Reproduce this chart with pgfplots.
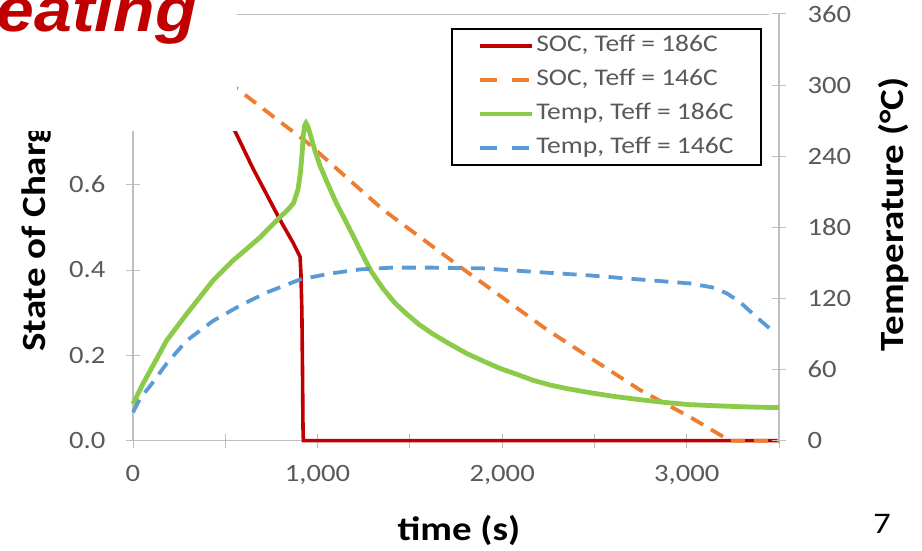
\documentclass[border=0pt]{standalone}
\usepackage{fontspec}
\setmainfont{Carlito}[FakeStretch=1.15]
\newfontfamily\arialfont{Liberation Sans}[FakeStretch=1.1]
\usepackage{pgfplots}
\pgfplotsset{compat=1.18}
\definecolor{socred}{HTML}{C00000}
\definecolor{socorange}{HTML}{ED7D31}
\definecolor{tgreen}{HTML}{8CCB4A}
\definecolor{tblue}{HTML}{5B9BD5}
\definecolor{axgray}{HTML}{BFBFBF}
\definecolor{lblgray}{HTML}{595959}
\definecolor{titlered}{HTML}{C00000}
\begin{document}
\begin{tikzpicture}[x=1bp,y=1bp]
\path[use as bounding box] (0,0) rectangle (922,551);
\pgfplotsset{
  common/.style={
    scale only axis, width=646bp, height=426.7bp,
    at={(133bp,110.3bp)}, anchor=south west,
    xmin=0, xmax=3500, clip=false,
    axis line style={-, draw=axgray, line width=1.1bp},
    tick style={draw=axgray, line width=1bp},
    tick align=center, major tick length=14bp, minor tick length=14bp,
    ticklabel style={font=\fontsize{25}{30}\selectfont, text=lblgray},
    /pgf/number format/assume math mode=true,
  }
}
\begin{axis}[common,
  axis x line*=bottom, axis y line*=left,
  ymin=0, ymax=1,
  ytick={0,0.2,0.4,0.6,0.8,1},
  yticklabel style={xshift=-17bp, /pgf/number format/.cd, fixed, fixed zerofill, precision=1},
  xticklabel style={yshift=-14bp},
  xtick={0,1000,2000,3000}, minor xtick={500,1500,2500,3500},
  every axis y label/.style={at={(axis description cs:-0.1362,0.2008)}, rotate=90, anchor=base west},
  every axis x label/.style={at={(axis description cs:0.5046,-0.235)}, anchor=base},
  ylabel={State of Charge}, xlabel={time (s)},
  label style={font=\bfseries\fontsize{34}{40}\selectfont, text=black},
]
\addplot[socred, line width=3.6bp] coordinates {
(0,1.0) (200,0.95) (400,0.85) (553,0.725) (650,0.638) (796,0.518) (867,0.464)
(905,0.431) (910,0.39) (915,0.30) (918,0.18) (921,0.03) (923,0) (3500,0)
};
\addplot[socorange, line width=3.8bp, dash pattern=on 14bp off 9bp] coordinates {
(0,1.0) (569,0.823) (943,0.699) (1354,0.5416) (1771,0.4078) (2243,0.260)
(2746,0.119) (3017,0.0556) (3234,0) (3500,0)
};
\end{axis}
\begin{axis}[common,
  axis x line=none, axis y line*=right,
  ymin=0, ymax=360, ytick={0,60,...,360},
  yticklabel style={xshift=18bp},
  every axis y label/.style={at={(axis description cs:1.192,0.2008)}, rotate=90, anchor=base west},
  ylabel={Temperature (°C)},
  label style={font=\bfseries\fontsize{34}{40}\selectfont, text=black},
  legend style={at={(0.973,0.9665)}, anchor=north east, draw=black, line width=1.3bp,
    fill=white, inner xsep=26bp, inner ysep=4.5bp, row sep=9bp,
    font=\fontsize{24}{28}\selectfont, text=lblgray,
    cells={anchor=west}, nodes={inner sep=1.5bp, text height=17bp, text depth=5bp}},
  legend image code/.code={\draw[#1] (0bp,0bp) -- (52bp,0bp);},
]
\addlegendimage{socred, line width=3.6bp}
\addlegendentry{SOC, Teff = 186C}
\addlegendimage{socorange, line width=3.8bp, dash pattern=on 17bp off 15bp}
\addlegendentry{SOC, Teff = 146C}
\addlegendimage{tgreen, line width=4.8bp}
\addlegendentry{Temp, Teff = 186C}
\addlegendimage{tblue, line width=3.8bp, dash pattern=on 17bp off 15bp}
\addlegendentry{Temp, Teff = 146C}
\addplot[tgreen, line width=4.8bp, forget plot] coordinates {
(0,31) (54,48) (128,69) (182,84.5) (291,107) (433,135) (542,152) (688,171.5)
(796,188.5) (840,195) (870,200.5) (894,212) (907,226) (916,242) (923,258)
(930,266) (937,268) (948,265) (965,256)
(985,245) (1013,232) (1060,215) (1103,200) (1150,186) (1192,173) (1240,158)
(1290,143) (1356,128) (1420,116) (1482,107) (1550,98) (1625,90) (1700,83)
(1809,73.5) (1900,67) (1988,61) (2080,56) (2167,51) (2259,47) (2350,44)
(2476,40.5) (2600,37.5) (2746,34.6) (2880,32.3) (3017,30.4) (3150,29.5)
(3288,28.7) (3400,28.2) (3500,27.9)
};
\addplot[tblue, line width=3.8bp, dash pattern=on 14bp off 9bp, forget plot] coordinates {
(0,24) (40,36) (92,46) (182,65) (291,84.5) (433,101) (580,114) (724,125)
(905,136) (1067,141) (1230,144.5) (1400,146) (1625,146) (1896,145.4)
(2167,142.5) (2476,139.4) (2746,136) (3017,132.7) (3150,129) (3220,124)
(3288,117) (3380,104) (3470,92)
};
\end{axis}
\fill[white] (0,420) rectangle (237,551);
\draw[axgray, line width=1.2bp] (237,536.5) -- (769,536.5);
\node[anchor=base east, text=titlered, font=\arialfont\bfseries\itshape\fontsize{62}{72}\selectfont, inner sep=0pt] at (197,519) {heating};
\node[font=\fontsize{30}{36}\selectfont, inner sep=0pt] at (882,27) {7};
\end{tikzpicture}
\end{document}
